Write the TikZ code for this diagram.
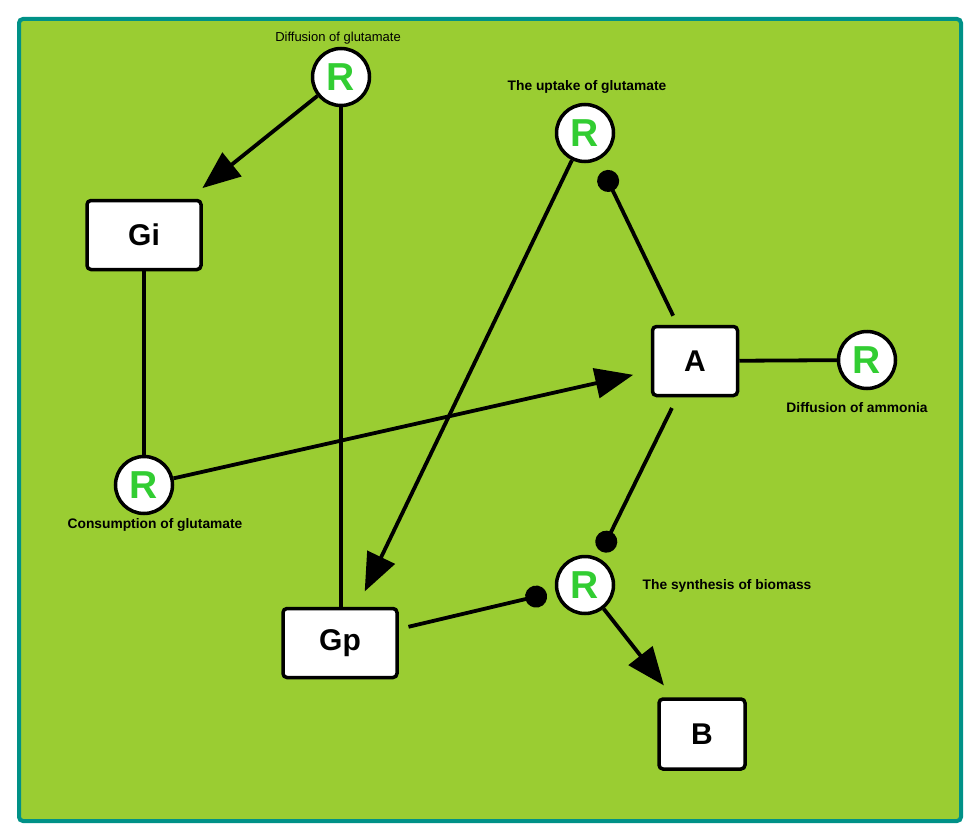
\documentclass[tikz,border=0pt]{standalone}
\usepackage{fontspec}
\setmainfont{Liberation Sans}
\usetikzlibrary{arrows.meta}
\definecolor{frameteal}{RGB}{0,145,135}
\definecolor{bggreen}{RGB}{154,205,50}
\definecolor{rgreen}{RGB}{50,205,50}
\tikzset{
  rnode/.style={circle,draw=black,fill=white,line width=3.5pt,minimum size=57pt,inner sep=0pt,
    font=\fontsize{39}{39}\selectfont\bfseries,text=rgreen},
  boxnode/.style={rectangle,rounded corners=4pt,draw=black,fill=white,line width=3.5pt,
    font=\fontsize{30}{30}\selectfont\bfseries,text=black},
  lbl/.style={font=\fontsize{13.8}{14}\selectfont\bfseries,text=black,inner sep=0pt},
  lblreg/.style={font=\fontsize{13}{14}\selectfont,text=black,inner sep=0pt},
  conn/.style={line width=3.8pt,draw=black},
  arr/.style={conn,-{Triangle[length=38pt,width=30pt]}},
  dotend/.style={conn,-{Circle[length=22pt]}},
}
\begin{document}
\begin{tikzpicture}[x=1pt,y=-1pt]
\useasboundingbox (0,0) rectangle (980,840);
\draw[line width=4pt,draw=frameteal,fill=bggreen,rounded corners=4pt] (19,19) rectangle (961,821);

% reaction nodes
\node[rnode] (R1) at (341,77) {R};
\node[rnode] (R2) at (585,133) {R};
\node[rnode] (R3) at (144,485) {R};
\node[rnode] (R4) at (585,585) {R};
\node[rnode] (R5) at (867,360) {R};

% labels
\node[lblreg] (L1) at (338,38) {Diffusion of glutamate};
\node[lbl] (L2) at (587,87) {The uptake of glutamate};
\node[lbl] (L3) at (155,525) {Consumption of glutamate};
\node[lbl] (L4) at (727,586) {The synthesis of biomass};
\node[lbl] (L5) at (857,408) {Diffusion of ammonia};

% species boxes
\node[boxnode,minimum width=114pt,minimum height=69pt] (Gi) at (144,235) {Gi};
\node[boxnode,minimum width=85pt,minimum height=69pt] (A) at (695,361) {A};
\node[boxnode,minimum width=114pt,minimum height=69pt] (Gp) at (340,643) {Gp};
\node[boxnode,minimum width=86pt,minimum height=70pt] (B) at (702,734) {B};

% connectors
\draw[arr,shorten >=17pt] (R1) -- (Gi);
\draw[conn] (R1.south) -- (R1.south |- Gp.north);
\draw[conn] (Gi) -- (R3);
\draw[arr,shorten >=18pt] (R3) -- (A);
\draw[arr,shorten >=17pt] (R2) -- (Gp);
\draw[dotend,shorten <=10pt,shorten >=12pt] (A) -- (R2);
\draw[dotend,shorten <=12pt,shorten >=7pt] (A) -- (R4);
\draw[conn] (A) -- (R5);
\draw[dotend,shorten <=10pt,shorten >=9pt] (Gp) -- (R4);
\draw[arr,shorten >=15pt] (R4) -- (B);
\end{tikzpicture}
\end{document}
